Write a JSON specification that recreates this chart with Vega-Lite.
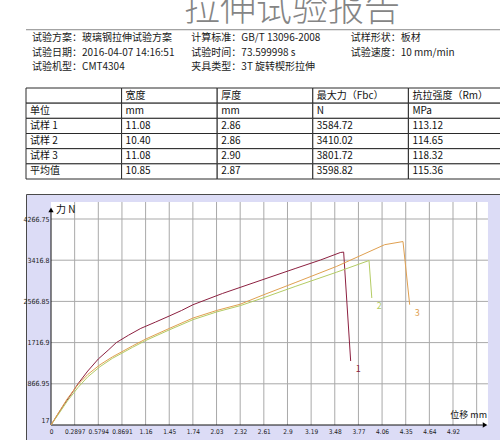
{
  "$schema": "https://vega.github.io/schema/vega-lite/v6.json",
  "padding": {"left": 22, "top": 0, "right": 0, "bottom": 0},
  "spacing": 13,
  "config": {
    "view": {"stroke": null},
    "font": "Noto Sans CJK SC",
    "text": {"font": "Noto Sans CJK SC"},
    "axis": {"minExtent": 0}
  },
  "vconcat": [
    {
      "spacing": 0,
      "vconcat": [
        {
          "width": 478,
          "height": 29,
          "data": {"values": [{"标题": "拉伸试验报告"}]},
          "mark": {
            "type": "text", "clip": true, "fontSize": 36, "fontWeight": 300,
            "color": "#858585", "align": "center", "baseline": "alphabetic", "dx": 27, "dy": 6
          },
          "encoding": {"text": {"field": "标题"}}
        },
        {
          "width": 478,
          "height": 45,
          "encoding": {
            "x": {
              "field": "列", "type": "ordinal", "bandPosition": 0,
              "scale": {"type": "band", "paddingInner": 0, "paddingOuter": 0},
              "axis": null
            },
            "y": {
              "field": "行", "type": "ordinal",
              "scale": {"type": "band", "paddingInner": 0, "paddingOuter": 0.05},
              "axis": null
            }
          },
          "layer": [
            {
              "data": {
                "values": [
                  {"列": 0, "行": 0, "文本": "试验方案：玻璃钢拉伸试验方案"},
                  {"列": 1, "行": 0, "文本": "计算标准：GB/T 13096-2008"},
                  {"列": 2, "行": 0, "文本": "试样形状：板材"},
                  {"列": 0, "行": 1, "文本": "试验日期：2016-04-07 14:16:51"},
                  {"列": 1, "行": 1, "文本": "试验时间：73.599998 s"},
                  {"列": 2, "行": 1, "文本": "试验速度：10 mm/min"},
                  {"列": 0, "行": 2, "文本": "试验机型：CMT4304"},
                  {"列": 1, "行": 2, "文本": "夹具类型：3T 旋转楔形拉伸"}
                ]
              },
              "mark": {"type": "text", "align": "left", "baseline": "middle", "fontSize": 10, "dx": 6, "dy": 1, "color": "#1a1a1a"},
              "encoding": {"text": {"field": "文本"}}
            },
            {
              "data": {"values": [{}]},
              "mark": {"type": "rule", "color": "#8a8a8a", "strokeWidth": 1},
              "encoding": {
                "x": null,
                "y": {"datum": 0, "type": "ordinal", "bandPosition": 0}
              }
            }
          ]
        }
      ]
    },
    {
      "width": 478,
      "height": 91,
      "data": {
        "values": [
          {"行": "表头", "列": "项目", "文本": ""},
          {"行": "表头", "列": "宽度", "文本": "宽度"},
          {"行": "表头", "列": "厚度", "文本": "厚度"},
          {"行": "表头", "列": "最大力", "文本": "最大力（Fbc）"},
          {"行": "表头", "列": "抗拉强度", "文本": "抗拉强度（Rm）"},
          {"行": "单位", "列": "项目", "文本": "单位"},
          {"行": "单位", "列": "宽度", "文本": "mm"},
          {"行": "单位", "列": "厚度", "文本": "mm"},
          {"行": "单位", "列": "最大力", "文本": "N"},
          {"行": "单位", "列": "抗拉强度", "文本": "MPa"},
          {"行": "试样 1", "列": "项目", "文本": "试样 1"},
          {"行": "试样 1", "列": "宽度", "文本": "11.08"},
          {"行": "试样 1", "列": "厚度", "文本": "2.86"},
          {"行": "试样 1", "列": "最大力", "文本": "3584.72"},
          {"行": "试样 1", "列": "抗拉强度", "文本": "113.12"},
          {"行": "试样 2", "列": "项目", "文本": "试样 2"},
          {"行": "试样 2", "列": "宽度", "文本": "10.40"},
          {"行": "试样 2", "列": "厚度", "文本": "2.86"},
          {"行": "试样 2", "列": "最大力", "文本": "3410.02"},
          {"行": "试样 2", "列": "抗拉强度", "文本": "114.65"},
          {"行": "试样 3", "列": "项目", "文本": "试样 3"},
          {"行": "试样 3", "列": "宽度", "文本": "11.08"},
          {"行": "试样 3", "列": "厚度", "文本": "2.90"},
          {"行": "试样 3", "列": "最大力", "文本": "3801.72"},
          {"行": "试样 3", "列": "抗拉强度", "文本": "118.32"},
          {"行": "平均值", "列": "项目", "文本": "平均值"},
          {"行": "平均值", "列": "宽度", "文本": "10.85"},
          {"行": "平均值", "列": "厚度", "文本": "2.87"},
          {"行": "平均值", "列": "最大力", "文本": "3598.82"},
          {"行": "平均值", "列": "抗拉强度", "文本": "115.36"}
        ]
      },
      "encoding": {
        "x": {
          "field": "列", "type": "nominal",
          "sort": ["项目", "宽度", "厚度", "最大力", "抗拉强度"],
          "scale": {"type": "band", "paddingInner": 0, "paddingOuter": 0},
          "axis": null
        },
        "y": {
          "field": "行", "type": "nominal",
          "sort": ["表头", "单位", "试样 1", "试样 2", "试样 3", "平均值"],
          "scale": {"type": "band", "paddingInner": 0, "paddingOuter": 0},
          "axis": null
        }
      },
      "layer": [
        {"mark": {"type": "rect", "fill": "#ffffff", "stroke": "#2a2a2a", "strokeWidth": 1}},
        {
          "mark": {"type": "text", "align": "left", "baseline": "middle", "dx": 4, "fontSize": 10, "color": "#111111"},
          "encoding": {
            "x": {
              "field": "列", "type": "nominal", "bandPosition": 0,
              "sort": ["项目", "宽度", "厚度", "最大力", "抗拉强度"]
            },
            "text": {"field": "文本"}
          }
        }
      ]
    },
    {
      "width": 474,
      "height": 246,
      "view": {"fill": "#dcdcf6", "stroke": "#4a4a4a", "strokeWidth": 1},
      "encoding": {
        "x": {
          "type": "quantitative",
          "scale": {"domain": [-0.3063, 5.5005], "nice": false, "zero": false},
          "axis": {
            "orient": "bottom", "offset": -15, "title": null, "grid": false, "domain": false,
            "ticks": false, "tickSize": 0, "labelPadding": 3, "labelFontSize": 6.5,
            "minExtent": 0, "maxExtent": 0,
            "labelFont": "'Liberation Sans Narrow', 'DejaVu Sans Condensed', 'Roboto Condensed', sans-serif",
            "labelColor": "#1a1a1a", "labelBaseline": "top",
            "values": [0, 0.2897, 0.5794, 0.8691, 1.1588, 1.4485, 1.7382, 2.0279, 2.3176, 2.6073, 2.897, 3.1867, 3.4764, 3.7661, 4.0558, 4.3455, 4.6352, 4.9249],
            "labelExpr": "datum.value == 0 ? '0' : (datum.value < 1 ? format(datum.value, '.4f') : format(datum.value, '.3~r'))"
          }
        },
        "y": {
          "type": "quantitative",
          "scale": {"domain": [-292.4, 4782.5], "nice": false, "zero": false},
          "axis": {
            "orient": "left", "offset": -25, "title": null, "grid": false, "domain": false,
            "ticks": false, "tickSize": 0, "labelPadding": 2, "labelFontSize": 7,
            "minExtent": 0, "maxExtent": 0,
            "labelFont": "'Liberation Sans Narrow', 'DejaVu Sans Condensed', 'Roboto Condensed', sans-serif",
            "labelColor": "#1a1a1a", "labelBaseline": "middle",
            "values": [17, 866.95, 1716.9, 2566.85, 3416.8, 4266.75],
            "labelExpr": "format(datum.value, '.6~r')",
            "labelOffset": {"condition": {"test": "datum.value == 17", "value": -5}, "value": 0}
          }
        }
      },
      "layer": [
        {
          "data": {"values": [{}]},
          "mark": {"type": "rect", "color": "#ffffff"},
          "encoding": {
            "x": {"datum": 0, "type": "quantitative"},
            "x2": {"datum": 5.353},
            "y": {"datum": 17, "type": "quantitative"},
            "y2": {"datum": 4617.5}
          }
        },
        {
          "data": {"values": [
            {"位移": 0.2897}, {"位移": 0.5794}, {"位移": 0.8691}, {"位移": 1.1588}, {"位移": 1.4485},
            {"位移": 1.7382}, {"位移": 2.0279}, {"位移": 2.3176}, {"位移": 2.6073}, {"位移": 2.897},
            {"位移": 3.1867}, {"位移": 3.4764}, {"位移": 3.7661}, {"位移": 4.0558}, {"位移": 4.3455},
            {"位移": 4.6352}, {"位移": 4.9249}, {"位移": 5.2146}
          ]},
          "mark": {"type": "rule", "color": "#a9a9a9", "strokeWidth": 1},
          "encoding": {
            "x": {"field": "位移", "type": "quantitative"},
            "y": {"datum": 17, "type": "quantitative"},
            "y2": {"datum": 4617.5}
          }
        },
        {
          "data": {"values": [
            {"力": 866.95}, {"力": 1716.9}, {"力": 2566.85}, {"力": 3416.8}, {"力": 4266.75}
          ]},
          "mark": {"type": "rule", "color": "#a9a9a9", "strokeWidth": 1},
          "encoding": {
            "y": {"field": "力", "type": "quantitative"},
            "x": {"datum": 0, "type": "quantitative"},
            "x2": {"datum": 5.353}
          }
        },
        {
          "data": {"values": [{}]},
          "mark": {"type": "rule", "color": "#111111", "strokeWidth": 1},
          "encoding": {
            "x": {"datum": 0, "type": "quantitative"},
            "y": {"datum": 17, "type": "quantitative"},
            "y2": {"datum": 4440}
          }
        },
        {
          "data": {"values": [{}]},
          "mark": {"type": "rule", "color": "#111111", "strokeWidth": 1},
          "encoding": {
            "y": {"datum": 17, "type": "quantitative"},
            "x": {"datum": 0, "type": "quantitative"},
            "x2": {"datum": 5.29}
          }
        },
        {
          "data": {"values": [{}]},
          "mark": {"type": "point", "shape": "triangle-up", "filled": true, "size": 28, "color": "#000000", "opacity": 1},
          "encoding": {
            "x": {"datum": 0, "type": "quantitative"},
            "y": {"datum": 4455, "type": "quantitative"}
          }
        },
        {
          "data": {"values": [{}]},
          "mark": {"type": "point", "shape": "triangle-right", "filled": true, "size": 28, "color": "#000000", "opacity": 1},
          "encoding": {
            "x": {"datum": 5.317, "type": "quantitative"},
            "y": {"datum": 17, "type": "quantitative"}
          }
        },
        {
          "data": {"values": [{"标题": "力 N"}]},
          "mark": {"type": "text", "align": "left", "baseline": "middle", "dx": 5, "fontSize": 10, "color": "#111111"},
          "encoding": {
            "x": {"datum": 0, "type": "quantitative"},
            "y": {"datum": 4455, "type": "quantitative"},
            "text": {"field": "标题"}
          }
        },
        {
          "data": {"values": [{"标题": "位移 mm"}]},
          "mark": {"type": "text", "align": "right", "baseline": "middle", "dx": 2, "dy": -10, "fontSize": 9, "color": "#111111"},
          "encoding": {
            "x": {"datum": 5.317, "type": "quantitative"},
            "y": {"datum": 17, "type": "quantitative"},
            "text": {"field": "标题"}
          }
        },
        {
          "data": {"name": "曲线", "values": [
            {"试样": "1", "位移": 0, "力": 17},
            {"试样": "1", "位移": 0.08, "力": 230},
            {"试样": "1", "位移": 0.16, "力": 440},
            {"试样": "1", "位移": 0.25, "力": 660},
            {"试样": "1", "位移": 0.33, "力": 866},
            {"试样": "1", "位移": 0.45, "力": 1130},
            {"试样": "1", "位移": 0.58, "力": 1380},
            {"试样": "1", "位移": 0.70, "力": 1560},
            {"试样": "1", "位移": 0.80, "力": 1717},
            {"试样": "1", "位移": 0.95, "力": 1870},
            {"试样": "1", "位移": 1.10, "力": 2010},
            {"试样": "1", "位移": 1.28, "力": 2140},
            {"试样": "1", "位移": 1.45, "力": 2266},
            {"试样": "1", "位移": 1.60, "力": 2380},
            {"试样": "1", "位移": 1.74, "力": 2499},
            {"试样": "1", "位移": 2.10, "力": 2730},
            {"试样": "1", "位移": 2.475, "力": 2947},
            {"试样": "1", "位移": 3.0, "力": 3250},
            {"试样": "1", "位移": 3.30, "力": 3420},
            {"试样": "1", "位移": 3.544, "力": 3575},
            {"试样": "1", "位移": 3.585, "力": 3584.72},
            {"试样": "1", "位移": 3.671, "力": 1337},
            {"试样": "2", "位移": 0, "力": 17},
            {"试样": "2", "位移": 0.1, "力": 260},
            {"试样": "2", "位移": 0.2, "力": 510},
            {"试样": "2", "位移": 0.33, "力": 790},
            {"试样": "2", "位移": 0.45, "力": 1010},
            {"试样": "2", "位移": 0.6, "力": 1220},
            {"试样": "2", "位移": 0.75, "力": 1390},
            {"试样": "2", "位移": 0.87, "力": 1500},
            {"试样": "2", "位移": 1.0, "力": 1620},
            {"试样": "2", "位移": 1.16, "力": 1760},
            {"试样": "2", "位移": 1.45, "力": 1980},
            {"试样": "2", "位移": 1.74, "力": 2190},
            {"试样": "2", "位移": 2.03, "力": 2350},
            {"试样": "2", "位移": 2.32, "力": 2480},
            {"试样": "2", "位移": 2.6, "力": 2640},
            {"试样": "2", "位移": 3.0, "力": 2880},
            {"试样": "2", "位移": 3.5, "力": 3170},
            {"试样": "2", "位移": 3.896, "力": 3410.02},
            {"试样": "2", "位移": 3.93, "力": 2637},
            {"试样": "3", "位移": 0, "力": 17},
            {"试样": "3", "位移": 0.1, "力": 290},
            {"试样": "3", "位移": 0.2, "力": 560},
            {"试样": "3", "位移": 0.33, "力": 850},
            {"试样": "3", "位移": 0.45, "力": 1060},
            {"试样": "3", "位移": 0.6, "力": 1260},
            {"试样": "3", "位移": 0.75, "力": 1420},
            {"试样": "3", "位移": 0.87, "力": 1530},
            {"试样": "3", "位移": 1.0, "力": 1650},
            {"试样": "3", "位移": 1.16, "力": 1790},
            {"试样": "3", "位移": 1.45, "力": 2010},
            {"试样": "3", "位移": 1.74, "力": 2224},
            {"试样": "3", "位移": 2.03, "力": 2380},
            {"试样": "3", "位移": 2.32, "力": 2510},
            {"试样": "3", "位移": 2.6, "力": 2700},
            {"试样": "3", "位移": 3.0, "力": 2960},
            {"试样": "3", "位移": 3.5, "力": 3290},
            {"试样": "3", "位移": 4.088, "力": 3737},
            {"试样": "3", "位移": 4.312, "力": 3801.72},
            {"试样": "3", "位移": 4.394, "力": 2499}
          ]},
          "layer": [
            {
              "mark": {"type": "line", "strokeWidth": 1, "interpolate": "linear"},
              "encoding": {
                "x": {"field": "位移", "type": "quantitative"},
                "y": {"field": "力", "type": "quantitative"},
                "color": {
                  "field": "试样", "type": "nominal",
                  "scale": {"domain": ["1", "2", "3"], "range": ["#8c2040", "#b4cc64", "#e0a050"]},
                  "legend": null
                }
              }
            },
            {
              "transform": [
                {"aggregate": [{"op": "argmax", "field": "位移", "as": "末点"}], "groupby": ["试样"]}
              ],
              "mark": {"type": "text", "align": "left", "baseline": "middle", "dx": 5, "dy": 8, "fontSize": 9},
              "encoding": {
                "x": {"field": "末点.位移", "type": "quantitative"},
                "y": {"field": "末点.力", "type": "quantitative"},
                "text": {"field": "试样"},
                "color": {
                  "field": "试样", "type": "nominal",
                  "scale": {"domain": ["1", "2", "3"], "range": ["#8c2040", "#c8c050", "#e0a050"]},
                  "legend": null
                }
              }
            }
          ]
        }
      ]
    }
  ]
}
